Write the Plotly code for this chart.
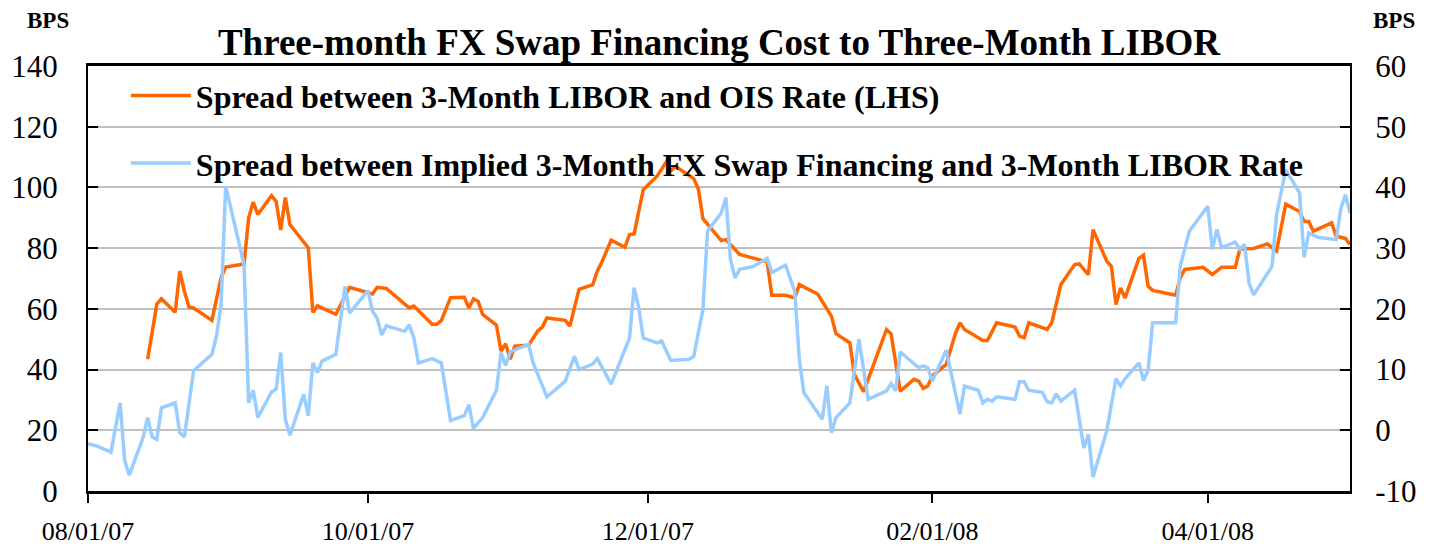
import plotly.graph_objects as go

# ---------------- data ----------------
libor_ois_dates = [
    "2007-08-14", "2007-08-16", "2007-08-17", "2007-08-20", "2007-08-21", "2007-08-22", "2007-08-23",
    "2007-08-24", "2007-08-28", "2007-08-30", "2007-08-31", "2007-09-04", "2007-09-05", "2007-09-06",
    "2007-09-07", "2007-09-10", "2007-09-11", "2007-09-12", "2007-09-13", "2007-09-14", "2007-09-18",
    "2007-09-19", "2007-09-20", "2007-09-24", "2007-09-27", "2007-10-01", "2007-10-02", "2007-10-03",
    "2007-10-05", "2007-10-10", "2007-10-11", "2007-10-15", "2007-10-16", "2007-10-17", "2007-10-19",
    "2007-10-22", "2007-10-23", "2007-10-24", "2007-10-25", "2007-10-26", "2007-10-29", "2007-10-30",
    "2007-10-31", "2007-11-01", "2007-11-02", "2007-11-05", "2007-11-07", "2007-11-08", "2007-11-09",
    "2007-11-13", "2007-11-14", "2007-11-16", "2007-11-19", "2007-11-20", "2007-11-21", "2007-11-23",
    "2007-11-26", "2007-11-27", "2007-11-28", "2007-11-30", "2007-12-03", "2007-12-05", "2007-12-06",
    "2007-12-07", "2007-12-11", "2007-12-12", "2007-12-13", "2007-12-17", "2007-12-18", "2007-12-21",
    "2007-12-27", "2007-12-28", "2007-12-31", "2008-01-02", "2008-01-03", "2008-01-07", "2008-01-10",
    "2008-01-11", "2008-01-14", "2008-01-15", "2008-01-17", "2008-01-18", "2008-01-22", "2008-01-23",
    "2008-01-25", "2008-01-28", "2008-01-29", "2008-01-30", "2008-01-31", "2008-02-01", "2008-02-04",
    "2008-02-06", "2008-02-07", "2008-02-08", "2008-02-12", "2008-02-13", "2008-02-15", "2008-02-19",
    "2008-02-20", "2008-02-21", "2008-02-22", "2008-02-26", "2008-02-27", "2008-02-29", "2008-03-03",
    "2008-03-04", "2008-03-06", "2008-03-07", "2008-03-10", "2008-03-11", "2008-03-12", "2008-03-13",
    "2008-03-14", "2008-03-17", "2008-03-18", "2008-03-19", "2008-03-20", "2008-03-25", "2008-03-26",
    "2008-03-27", "2008-03-31", "2008-04-02", "2008-04-04", "2008-04-07", "2008-04-08", "2008-04-11",
    "2008-04-14", "2008-04-16", "2008-04-18", "2008-04-21", "2008-04-22", "2008-04-23", "2008-04-24",
    "2008-04-28", "2008-04-29", "2008-05-01", "2008-05-02",
]
libor_ois_bps = [
    43.4, 61.6, 63.3, 58.9, 72.4, 65.8, 60.6,
    60.3, 56.2, 70.2, 73.8, 74.8, 89.9, 95.2,
    91.1, 97.3, 95.4, 86.0, 96.7, 87.8, 80.1,
    58.8, 61.0, 58.2, 67.1, 65.3, 64.9, 67.1,
    66.7, 60.3, 60.9, 54.9, 54.9, 56.2, 63.7,
    63.8, 60.3, 63.3, 62.5, 58.2, 54.6, 46.1,
    48.5, 43.4, 47.7, 48.0, 52.7, 54.0, 57.0,
    56.2, 54.3, 66.4, 68.0, 72.5, 75.5, 82.6,
    80.3, 84.5, 84.7, 99.3, 103.7, 108.4, 105.5,
    107.0, 102.9, 99.5, 89.7, 82.5, 82.8, 77.9,
    75.5, 64.5, 64.5, 63.6, 68.0, 64.9, 57.6,
    51.8, 48.8, 38.4, 32.7, 36.8, 53.2, 51.8,
    32.9, 36.8, 36.2, 33.8, 34.6, 37.9, 41.7,
    51.8, 55.4, 53.2, 49.6, 49.6, 55.4, 54.0,
    51.0, 50.5, 55.4, 53.2, 55.4, 68.0, 74.6,
    74.8, 71.3, 86.1, 75.7, 74.0, 61.4, 66.9,
    63.6, 76.6, 77.7, 67.5, 66.1, 64.5, 70.2,
    73.0, 73.7, 71.3, 73.7, 73.7, 79.7, 79.9,
    81.4, 79.0, 94.5, 92.1, 88.8, 88.8, 85.6,
    88.3, 83.9, 83.2, 81.2,
]

fx_swap_dates = [
    "2007-08-01", "2007-08-03", "2007-08-06", "2007-08-08", "2007-08-09", "2007-08-10", "2007-08-13",
    "2007-08-14", "2007-08-15", "2007-08-16", "2007-08-17", "2007-08-20", "2007-08-21", "2007-08-22",
    "2007-08-24", "2007-08-28", "2007-08-29", "2007-08-30", "2007-08-31", "2007-09-04", "2007-09-05",
    "2007-09-06", "2007-09-07", "2007-09-10", "2007-09-11", "2007-09-12", "2007-09-13", "2007-09-14",
    "2007-09-17", "2007-09-18", "2007-09-19", "2007-09-20", "2007-09-21", "2007-09-24", "2007-09-26",
    "2007-09-27", "2007-10-01", "2007-10-02", "2007-10-03", "2007-10-04", "2007-10-05", "2007-10-09",
    "2007-10-10", "2007-10-11", "2007-10-12", "2007-10-15", "2007-10-17", "2007-10-19", "2007-10-22",
    "2007-10-23", "2007-10-24", "2007-10-26", "2007-10-29", "2007-10-30", "2007-10-31", "2007-11-01",
    "2007-11-05", "2007-11-06", "2007-11-09", "2007-11-13", "2007-11-15", "2007-11-16", "2007-11-19",
    "2007-11-20", "2007-11-23", "2007-11-27", "2007-11-28", "2007-11-29", "2007-11-30", "2007-12-03",
    "2007-12-04", "2007-12-06", "2007-12-10", "2007-12-11", "2007-12-13", "2007-12-14", "2007-12-17",
    "2007-12-18", "2007-12-19", "2007-12-20", "2007-12-21", "2007-12-24", "2007-12-27", "2007-12-28",
    "2007-12-31", "2008-01-02", "2008-01-03", "2008-01-04", "2008-01-08", "2008-01-09", "2008-01-10",
    "2008-01-11", "2008-01-14", "2008-01-16", "2008-01-18", "2008-01-22", "2008-01-23", "2008-01-24",
    "2008-01-25", "2008-01-29", "2008-01-30", "2008-01-31", "2008-02-01", "2008-02-04", "2008-02-07",
    "2008-02-08", "2008-02-11", "2008-02-12", "2008-02-13", "2008-02-14", "2008-02-15", "2008-02-19",
    "2008-02-20", "2008-02-21", "2008-02-22", "2008-02-25", "2008-02-26", "2008-02-27", "2008-02-28",
    "2008-02-29", "2008-03-03", "2008-03-05", "2008-03-06", "2008-03-07", "2008-03-10", "2008-03-12",
    "2008-03-13", "2008-03-14", "2008-03-17", "2008-03-18", "2008-03-19", "2008-03-20", "2008-03-25",
    "2008-03-26", "2008-03-28", "2008-04-01", "2008-04-02", "2008-04-03", "2008-04-04", "2008-04-07",
    "2008-04-08", "2008-04-09", "2008-04-10", "2008-04-11", "2008-04-15", "2008-04-16", "2008-04-18",
    "2008-04-21", "2008-04-22", "2008-04-23", "2008-04-25", "2008-04-29", "2008-04-30", "2008-05-01",
    "2008-05-02",
]
fx_swap_bps = [
    -2.2, -2.6, -3.6, 4.5, -5.0, -7.4, -1.2,
    2.1, -1.1, -1.5, 3.7, 4.5, -0.4, -1.1,
    9.8, 12.5, 15.5, 20.7, 40.2, 27.3, 4.5,
    6.6, 2.1, 6.3, 6.8, 12.8, 1.8, -0.8,
    5.9, 2.4, 11.1, 9.5, 11.4, 12.5, 23.7,
    19.3, 23.0, 19.6, 18.5, 15.7, 17.2, 16.3,
    17.4, 15.2, 11.1, 11.8, 11.1, 1.6, 2.4,
    4.2, 0.3, 2.1, 6.6, 12.8, 10.7, 12.9,
    14.2, 11.1, 5.5, 8.1, 12.2, 10.0, 10.9,
    11.8, 7.6, 15.2, 23.5, 20.2, 15.2, 14.4,
    14.7, 11.5, 11.7, 12.2, 19.9, 32.8, 35.8,
    38.3, 28.1, 25.1, 26.5, 27.0, 28.3, 26.0,
    27.2, 22.9, 11.7, 6.2, 1.8, 7.3, -0.4,
    2.1, 4.5, 15.0, 5.1, 6.5, 7.7, 6.5,
    12.9, 10.3, 10.6, 10.3, 8.1, 13.2, 2.7,
    7.3, 6.6, 4.5, 5.1, 4.8, 5.5, 5.1,
    8.0, 8.0, 6.6, 6.2, 4.7, 4.5, 6.0,
    4.8, 6.6, -2.9, -0.7, -7.7, -0.1, 8.5,
    7.3, 8.5, 11.1, 8.2, 9.8, 17.7, 17.7,
    27.0, 32.8, 36.9, 29.8, 33.1, 30.1, 31.0,
    29.8, 30.6, 24.3, 22.3, 27.0, 35.5, 42.9,
    39.1, 28.5, 32.5, 31.8, 31.4, 36.5, 38.8,
    35.8,
]

left_ticks = [0, 20, 40, 60, 80, 100, 120, 140]
right_ticks = [-10, 0, 10, 20, 30, 40, 50, 60]
right_tick_labels = ["-10", "0", "10", "20", "30", "40", "50", "60"]

series_names = [
    "Spread between 3-Month LIBOR and OIS Rate (LHS)",
    "Spread between Implied 3-Month FX Swap Financing and 3-Month LIBOR Rate",
]
chart_title = "Three-month FX Swap Financing Cost to Three-Month LIBOR"
axis_unit = "BPS"

# ---------------- figure ----------------
SERIF = "Liberation Serif"

fig = go.Figure()
fig.add_trace(go.Scatter(
    x=libor_ois_dates, y=libor_ois_bps, name=series_names[0], mode="lines",
    line=dict(color="#FF6600", width=3.5), legendgroup="a", yaxis="y",
))
fig.add_trace(go.Scatter(
    x=fx_swap_dates, y=fx_swap_bps, name=series_names[1], mode="lines",
    line=dict(color="#99CCFF", width=3.5), legendgroup="b", yaxis="y2",
))

fig.update_layout(
    width=1431, height=547,
    margin=dict(l=88, r=81, t=66, b=56, autoexpand=False),
    paper_bgcolor="white", plot_bgcolor="white",
    font=dict(family=SERIF, color="black"),
    title=dict(
        text=chart_title, x=0.5, xref="paper", y=1 - 42 / 547, yref="container",
        xanchor="center", yanchor="middle",
        font=dict(family=SERIF, size=37, weight="bold", color="black"),
    ),
    showlegend=True,
    legend=dict(
        x=0.03, y=0.995, xanchor="left", yanchor="top",
        bgcolor="rgba(0,0,0,0)", borderwidth=0,
        font=dict(family=SERIF, size=32, weight="bold", color="black"),
        tracegroupgap=23, traceorder="grouped", itemwidth=60,
    ),
    xaxis=dict(
        type="date", range=["2007-08-01", "2008-05-02"],
        tick0="2007-08-01", dtick="M2", tickformat="%m/%d/%y",
        ticks="outside", ticklen=9, tickwidth=2, tickcolor="black",
        showline=True, linewidth=3, linecolor="black", mirror=True,
        showgrid=False, zeroline=False, automargin=False,
        tickfont=dict(family=SERIF, size=26, color="black"),
        ticklabelstandoff=6,
    ),
    yaxis=dict(
        range=[0, 140], tickvals=left_ticks,
        ticks="inside", ticklen=10, tickwidth=2, tickcolor="black",
        showline=True, linewidth=2, linecolor="black",
        showgrid=True, gridcolor="#C0C0C0", gridwidth=2, zeroline=False,
        automargin=False,
        tickfont=dict(family=SERIF, size=31, color="black"),
        ticklabelstandoff=22,
    ),
    yaxis2=dict(
        range=[-10, 60], tickvals=right_ticks, ticktext=right_tick_labels,
        overlaying="y", side="right",
        ticks="inside", ticklen=10, tickwidth=2, tickcolor="black",
        showline=True, linewidth=2, linecolor="black",
        showgrid=False, zeroline=False, automargin=False,
        tickfont=dict(family=SERIF, size=31, color="black"),
        ticklabelstandoff=17,
    ),
    annotations=[
        dict(text=axis_unit, xref="paper", yref="paper", x=(48 - 88) / 1262, y=(491 - 21) / 425,
             showarrow=False, xanchor="center", yanchor="middle",
             font=dict(family=SERIF, size=23, weight="bold", color="black")),
        dict(text=axis_unit, xref="paper", yref="paper", x=(1394 - 88) / 1262, y=(491 - 21) / 425,
             showarrow=False, xanchor="center", yanchor="middle",
             font=dict(family=SERIF, size=23, weight="bold", color="black")),
    ],
)

fig.write_html("out.html", config={"displayModeBar": False},
               post_script="document.body.style.margin='0';")
